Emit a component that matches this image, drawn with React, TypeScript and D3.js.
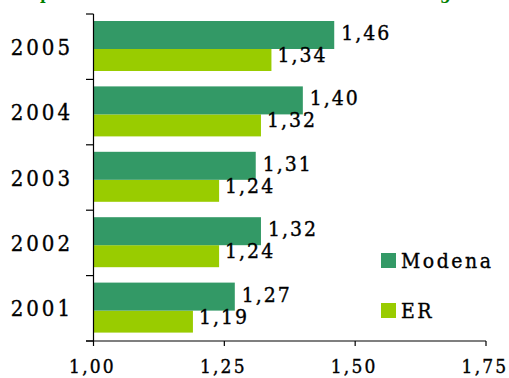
import React from "react";
import * as d3 from "d3";

const years = ["2005", "2004", "2003", "2002", "2001"];
const modena = [1.46, 1.40, 1.31, 1.32, 1.27];
const er = [1.34, 1.32, 1.24, 1.24, 1.19];
const xTicks = [1.0, 1.25, 1.5, 1.75];
const seriesNames = ["Modena", "ER"];
const colors = ["#339966", "#99CC00"];

const W = 509;
const H = 378;
const FONT = "'DejaVu Serif Condensed', 'DejaVu Serif', serif";

const fmt = (v: number) => v.toFixed(2).replace(".", ",");

export default function App() {
  const x = d3.scaleLinear().domain([1, 1.75]).range([93.5, 486]);
  const y = d3.scaleBand<string>().domain(years).range([14, 341]).paddingInner(0).paddingOuter(0);
  const bw = y.bandwidth();
  const txt = { fill: "#000", stroke: "#000", strokeWidth: 0.35, fontStretch: "condensed" } as any;

  return (
    <svg width={W} height={H} style={{ position: "absolute", left: 0, top: 0 }} fontFamily={FONT}>
      <rect width={W} height={H} fill="#fff" />
      {/* cut-off title */}
      <text x={40} y={-1} fontSize={17} fontWeight="bold" fill="#008000">p</text>
      <text x={440} y={-1} fontSize={17} fontWeight="bold" fill="#008000">g</text>

      {years.map((yr, i) => {
        const y0 = y(yr)!;
        const mTop = y0 + 7;
        const eTop = y0 + 35;
        return (
          <g key={yr}>
            <rect x={x(1)} y={eTop} width={x(er[i]) - x(1)} height={22} fill={colors[1]} />
            <rect x={x(1)} y={mTop} width={x(modena[i]) - x(1)} height={28} fill={colors[0]} />
            <text x={x(modena[i]) + 7} y={mTop + 19} fontSize={21} letterSpacing={2} {...txt}>
              {fmt(modena[i])}
            </text>
            <text x={x(er[i]) + 6} y={eTop + 13} fontSize={21} letterSpacing={2} {...txt}>
              {fmt(er[i])}
            </text>
            <text x={73} y={y0 + bw / 2 + 8} fontSize={22} letterSpacing={3} textAnchor="end" {...txt}>
              {yr}
            </text>
          </g>
        );
      })}

      {/* y axis */}
      <line x1={x(1)} x2={x(1)} y1={14} y2={341} stroke="#000" strokeWidth={1.2} />
      {[...years.map((yr) => y(yr)!), 341].map((v, i) => (
        <line key={i} x1={86} x2={x(1)} y1={v} y2={v} stroke="#000" strokeWidth={1.2} />
      ))}

      {/* x axis */}
      <line x1={86} x2={x(1.75)} y1={341} y2={341} stroke="#000" strokeWidth={1.2} />
      {xTicks.map((t) => (
        <g key={t}>
          <line x1={x(t)} x2={x(t)} y1={341} y2={346} stroke="#000" strokeWidth={1.2} />
          <text x={x(t) - 1} y={373} fontSize={19} letterSpacing={2.2} textAnchor="middle" {...txt}>
            {fmt(t)}
          </text>
        </g>
      ))}

      {/* legend */}
      {seriesNames.map((s, i) => (
        <g key={s}>
          <rect x={381} y={253 + i * 50} width={15} height={15} fill={colors[i]} />
          <text x={401} y={268 + i * 50} fontSize={21} letterSpacing={2.5} {...txt}>
            {s}
          </text>
        </g>
      ))}
    </svg>
  );
}
